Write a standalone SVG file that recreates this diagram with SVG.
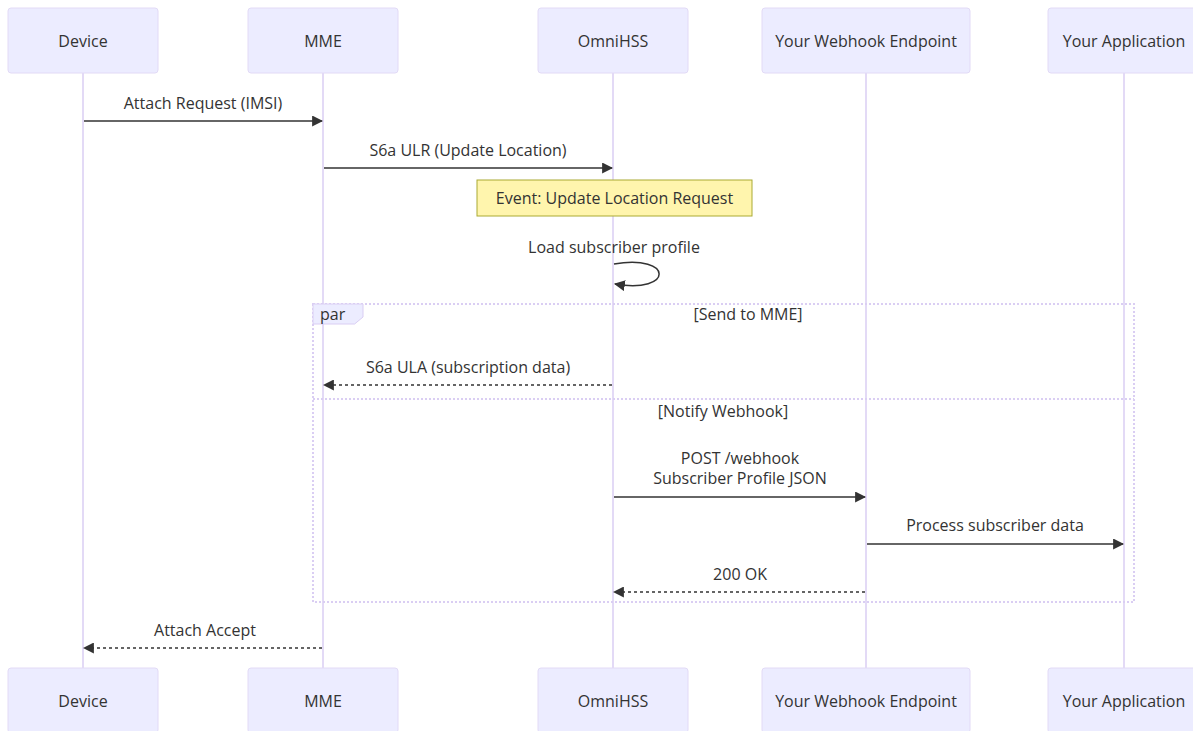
<svg xmlns="http://www.w3.org/2000/svg" width="1193" height="731" viewBox="0 0 1193 731">
<style>
  .actor { fill: #ECECFF; stroke: #E2DAF6; stroke-width: 1; }
  .actor-text { font-family: "Open Sans", "Liberation Sans", sans-serif; font-size: 16px; fill: #333; text-anchor: middle; dominant-baseline: central; }
  .life { stroke: #DACEF3; stroke-width: 1.5; fill: none; }
  .msg { stroke: #333; stroke-width: 1.5; fill: none; }
  .dotted { stroke-dasharray: 3,3; }
  .msg-text { font-family: "Open Sans", "Liberation Sans", sans-serif; font-size: 16px; fill: #333; text-anchor: middle; dominant-baseline: central; }
  .note { fill: #FFF5AD; stroke: #AAAA33; stroke-width: 1; }
  .loop-line { stroke: #DACEF3; stroke-width: 2; stroke-dasharray: 2,2; fill: none; }
  .label-box { fill: #ECECFF; stroke: #DACEF3; stroke-width: 1; }
  .label-text { font-family: "Open Sans", "Liberation Sans", sans-serif; font-size: 16px; fill: #333; dominant-baseline: central; }
</style>
<defs>
  <marker id="arrow" markerUnits="userSpaceOnUse" viewBox="0 0 10 10" refX="9" refY="5" markerWidth="11" markerHeight="11" orient="auto">
    <path d="M0,0 L10,5 L0,10 z" fill="#333"/>
  </marker>
</defs>
<rect width="1193" height="731" fill="#ffffff"/>

<g id="lifelines">
  <line class="life" x1="83" y1="73" x2="83" y2="668"/>
  <line class="life" x1="323" y1="73" x2="323" y2="668"/>
  <line class="life" x1="613" y1="73" x2="613" y2="668"/>
  <line class="life" x1="866" y1="73" x2="866" y2="668"/>
  <line class="life" x1="1124" y1="73" x2="1124" y2="668"/>
</g>

<g id="par-block">
  <rect class="loop-line" x="313" y="304" width="821" height="298"/>
  <line class="loop-line" x1="313" y1="399" x2="1134" y2="399"/>
  <polygon class="label-box" points="313,304 363,304 363,317 354.6,324 313,324"/>
  <text class="label-text" x="320" y="314">par</text>
  <text class="msg-text" x="748" y="314">[Send to MME]</text>
  <text class="msg-text" x="723" y="411">[Notify Webhook]</text>
</g>

<g id="actor-device-top"><rect class="actor" x="8" y="8" width="150" height="65" rx="3"/><text class="actor-text" x="83" y="41">Device</text></g>
<g id="actor-mme-top"><rect class="actor" x="248" y="8" width="150" height="65" rx="3"/><text class="actor-text" x="323" y="41">MME</text></g>
<g id="actor-omnihss-top"><rect class="actor" x="538" y="8" width="150" height="65" rx="3"/><text class="actor-text" x="613" y="41">OmniHSS</text></g>
<g id="actor-webhook-top"><rect class="actor" x="762" y="8" width="208" height="65" rx="3"/><text class="actor-text" x="866" y="41">Your Webhook Endpoint</text></g>
<g id="actor-app-top"><rect class="actor" x="1048" y="8" width="152" height="65" rx="3"/><text class="actor-text" x="1124" y="41">Your Application</text></g>

<g id="actor-device-bottom"><rect class="actor" x="8" y="668" width="150" height="65" rx="3"/><text class="actor-text" x="83" y="701">Device</text></g>
<g id="actor-mme-bottom"><rect class="actor" x="248" y="668" width="150" height="65" rx="3"/><text class="actor-text" x="323" y="701">MME</text></g>
<g id="actor-omnihss-bottom"><rect class="actor" x="538" y="668" width="150" height="65" rx="3"/><text class="actor-text" x="613" y="701">OmniHSS</text></g>
<g id="actor-webhook-bottom"><rect class="actor" x="762" y="668" width="208" height="65" rx="3"/><text class="actor-text" x="866" y="701">Your Webhook Endpoint</text></g>
<g id="actor-app-bottom"><rect class="actor" x="1048" y="668" width="152" height="65" rx="3"/><text class="actor-text" x="1124" y="701">Your Application</text></g>

<g id="note-event">
  <rect class="note" x="477" y="180" width="275" height="36"/>
  <text class="msg-text" x="614.5" y="198">Event: Update Location Request</text>
</g>

<g id="connectors">
  <line class="msg" x1="84" y1="121" x2="322" y2="121" marker-end="url(#arrow)"/>
  <text class="msg-text" x="203" y="103">Attach Request (IMSI)</text>

  <line class="msg" x1="324" y1="168" x2="612" y2="168" marker-end="url(#arrow)"/>
  <text class="msg-text" x="468" y="150">S6a ULR (Update Location)</text>

  <path class="msg" d="M614,264 C674,254 674,294 615,284" marker-end="url(#arrow)"/>
  <text class="msg-text" x="614" y="247">Load subscriber profile</text>

  <line class="msg dotted" x1="612" y1="385" x2="324" y2="385" marker-end="url(#arrow)"/>
  <text class="msg-text" x="468" y="367">S6a ULA (subscription data)</text>

  <line class="msg" x1="614" y1="497" x2="865" y2="497" marker-end="url(#arrow)"/>
  <text class="msg-text" x="740" y="458">POST /webhook</text>
  <text class="msg-text" x="740" y="478">Subscriber Profile JSON</text>

  <line class="msg" x1="867" y1="544" x2="1123" y2="544" marker-end="url(#arrow)"/>
  <text class="msg-text" x="995" y="525">Process subscriber data</text>

  <line class="msg dotted" x1="865" y1="592" x2="614" y2="592" marker-end="url(#arrow)"/>
  <text class="msg-text" x="740" y="574">200 OK</text>

  <line class="msg dotted" x1="322" y1="648" x2="84" y2="648" marker-end="url(#arrow)"/>
  <text class="msg-text" x="205" y="630">Attach Accept</text>
</g>
</svg>
